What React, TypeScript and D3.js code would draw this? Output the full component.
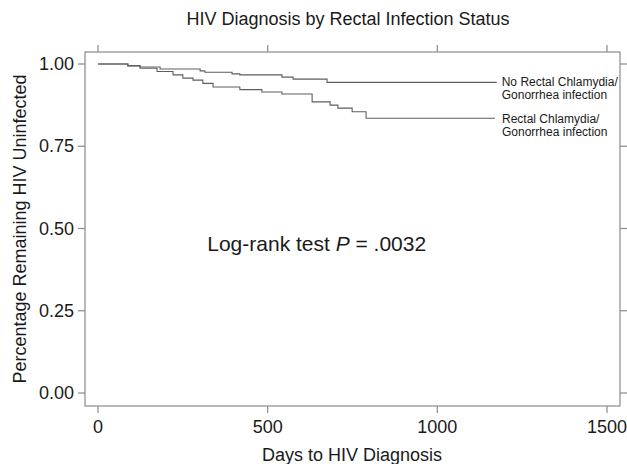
import React from "react";
import * as d3 from "d3";

const title = "HIV Diagnosis by Rectal Infection Status";
const xLabel = "Days to HIV Diagnosis";
const yLabel = "Percentage Remaining HIV Uninfected";

const xTicks = [0, 500, 1000, 1500];
const yTicks = [0, 0.25, 0.5, 0.75, 1.0];

const noInfDays = [0, 88, 124, 183, 301, 315, 395, 418, 542, 575, 675, 1175];
const noInfSurv = [1, 0.995, 0.991, 0.985, 0.979, 0.975, 0.97, 0.967, 0.96, 0.954, 0.944, 0.944];

const infDays = [0, 88, 124, 174, 221, 250, 280, 309, 339, 418, 483, 542, 631, 684, 707, 749, 790, 1170];
const infSurv = [1, 0.994, 0.987, 0.977, 0.967, 0.957, 0.951, 0.941, 0.93, 0.922, 0.915, 0.909, 0.885, 0.875, 0.866, 0.855, 0.835, 0.835];

const noInfLabel = ["No Rectal Chlamydia/", "Gonorrhea infection"];
const infLabel = ["Rectal Chlamydia/", "Gonorrhea infection"];

const W = 627;
const H = 464;
const frame = { left: 85, right: 620, top: 52, bottom: 406 };

export default function App() {
  const x = d3.scaleLinear().domain([0, 1500]).range([98, 607]);
  const y = d3.scaleLinear().domain([0, 1]).range([393, 64]);
  const font = "'Liberation Sans', Arial, Helvetica, sans-serif";
  const frameColor = "#8a8a8a";
  const lineColor = "#5e5e5e";
  const textColor = "#1a1a1a";

  const line = d3
    .line<[number, number]>()
    .x((d) => x(d[0]))
    .y((d) => y(d[1]))
    .curve(d3.curveStepAfter);

  const noInfPts = noInfDays.map((d, i) => [d, noInfSurv[i]] as [number, number]);
  const infPts = infDays.map((d, i) => [d, infSurv[i]] as [number, number]);

  const noInfEnd = noInfPts[noInfPts.length - 1];
  const infEnd = infPts[infPts.length - 1];

  return (
    <svg
      width={W}
      height={H}
      style={{ position: "absolute", left: 0, top: 0, background: "#fff" }}
      fontFamily={font}
    >
      <rect x={0} y={0} width={W} height={H} fill="#fff" />
      <text x={348} y={25} textAnchor="middle" fontSize={18} fill={textColor}>
        {title}
      </text>
      <rect
        x={frame.left}
        y={frame.top}
        width={frame.right - frame.left}
        height={frame.bottom - frame.top}
        fill="none"
        stroke={frameColor}
        strokeWidth={1.2}
      />
      {xTicks.map((t) => (
        <g key={"x" + t}>
          <line x1={x(t)} x2={x(t)} y1={frame.bottom} y2={frame.bottom + 7} stroke={frameColor} strokeWidth={1.2} />
          <line x1={x(t)} x2={x(t)} y1={frame.top} y2={frame.top - 7} stroke={frameColor} strokeWidth={1.2} />
          <text x={x(t)} y={433} textAnchor="middle" fontSize={18} fill={textColor}>
            {t}
          </text>
        </g>
      ))}
      {yTicks.map((t) => (
        <g key={"y" + t}>
          <line x1={frame.left} x2={frame.left - 7} y1={y(t)} y2={y(t)} stroke={frameColor} strokeWidth={1.2} />
          <line x1={frame.right} x2={frame.right + 7} y1={y(t)} y2={y(t)} stroke={frameColor} strokeWidth={1.2} />
          <text x={frame.left - 11} y={y(t) + 6} textAnchor="end" fontSize={18} fill={textColor}>
            {t.toFixed(2)}
          </text>
        </g>
      ))}
      <text x={352} y={461} textAnchor="middle" fontSize={18} fill={textColor}>
        {xLabel}
      </text>
      <text
        transform={`translate(26, ${(frame.top + frame.bottom) / 2}) rotate(-90)`}
        textAnchor="middle"
        fontSize={18}
        fill={textColor}
      >
        {yLabel}
      </text>
      <path d={line(noInfPts) || ""} fill="none" stroke={lineColor} strokeWidth={1.1} />
      <path d={line(infPts) || ""} fill="none" stroke={lineColor} strokeWidth={1.1} />
      <text fontSize={12} fill={textColor}>
        <tspan x={x(noInfEnd[0]) + 5} y={y(noInfEnd[1]) + 4}>{noInfLabel[0]}</tspan>
        <tspan x={x(noInfEnd[0]) + 5} y={y(noInfEnd[1]) + 17}>{noInfLabel[1]}</tspan>
      </text>
      <text fontSize={12} fill={textColor}>
        <tspan x={x(infEnd[0]) + 7} y={y(infEnd[1]) + 5}>{infLabel[0]}</tspan>
        <tspan x={x(infEnd[0]) + 7} y={y(infEnd[1]) + 18}>{infLabel[1]}</tspan>
      </text>
      <text x={x(322)} y={y(0.433)} fontSize={21} fill={textColor}>
        Log-rank test <tspan fontStyle="italic">P</tspan> = .0032
      </text>
    </svg>
  );
}
